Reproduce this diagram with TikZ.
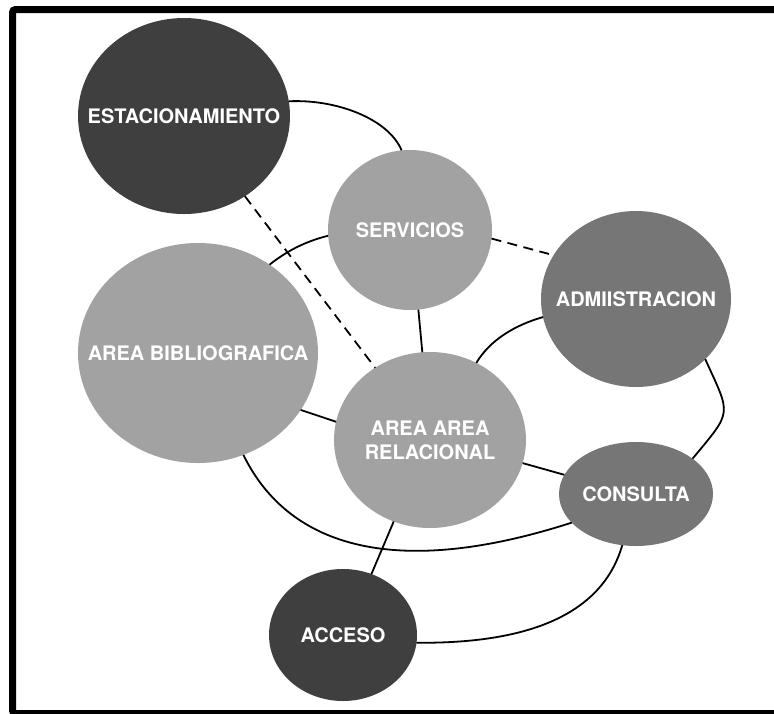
\documentclass[tikz,border=0pt]{standalone}
\usepackage{fontspec}
\setmainfont{TeX Gyre Heros}
\usetikzlibrary{shapes.geometric}
\definecolor{darkc}{HTML}{3F3F3F}
\definecolor{midc}{HTML}{767676}
\definecolor{lightc}{HTML}{A2A2A2}
\begin{document}
\begin{tikzpicture}[x=1pt,y=-1pt,
  blob/.style={ellipse, inner sep=0pt, outer sep=0pt, draw=none},
  lbl/.style={text=white, font=\bfseries\fontsize{20}{24}\selectfont, align=center, inner sep=0pt},
  link/.style={line width=1.8pt, black},
  dlink/.style={link, dash pattern=on 10pt off 6.5pt}]
\useasboundingbox (0,0) rectangle (774,713);
\fill[white] (0,0) rectangle (774,713);
\draw[line width=7pt, rounded corners=3pt] (12.5,9.5) rectangle (800,713.5);
% nodes
\node[blob, fill=darkc, minimum width=212pt, minimum height=196pt] (est) at (184,116) {};
\node[blob, fill=lightc, minimum width=164pt, minimum height=160pt] (serv) at (410,230) {};
\node[blob, fill=lightc, minimum width=240pt, minimum height=220pt] (bib) at (198,353) {};
\node[blob, fill=midc, minimum width=190pt, minimum height=176pt] (adm) at (636,299) {};
\node[blob, fill=lightc, minimum width=192pt, minimum height=176pt] (rel) at (430,440) {};
\node[blob, fill=midc, minimum width=154pt, minimum height=104pt] (con) at (636,494) {};
\node[blob, fill=darkc, minimum width=148pt, minimum height=132pt] (acc) at (343,635) {};
% labels
\node[lbl] (estt) at (est) {ESTACIONAMIENTO};
\node[lbl] (servt) at (serv) {SERVICIOS};
\node[lbl] (bibt) at (bib) {AREA BIBLIOGRAFICA};
\node[lbl] (admt) at (adm) {ADMIISTRACION};
\node[lbl] (relt) at (rel) {AREA AREA\\RELACIONAL};
\node[lbl] (cont) at (con) {CONSULTA};
\node[lbl] (acct) at (acc) {ACCESO};
% connectors
\draw[link] (est.8) .. controls (335,99) and (388,118) .. (serv.96);
\draw[dlink] (est) -- (rel);
\draw[dlink] (serv.-6) -- (adm.152);
\draw[link] (serv.184) .. controls (307,241) and (288,250) .. (bib.51);
\draw[link] (serv.-84) -- (rel.95);
\draw[link] (adm.191) .. controls (515,325) and (490,340) .. (rel.59);
\draw[link] (adm.-41) .. controls (731,416) and (733,410) .. (con.32);
\draw[link] (bib.-29) -- (rel.169);
\draw[link] (rel.-14) -- (con.165);
\draw[link] (bib.-66) .. controls (290,550) and (400,578) .. (con.204);
\draw[link] (rel.-114) -- (acc.65);
\draw[link] (con.-105) .. controls (605,605) and (545,644) .. (acc.-6);
\end{tikzpicture}
\end{document}
